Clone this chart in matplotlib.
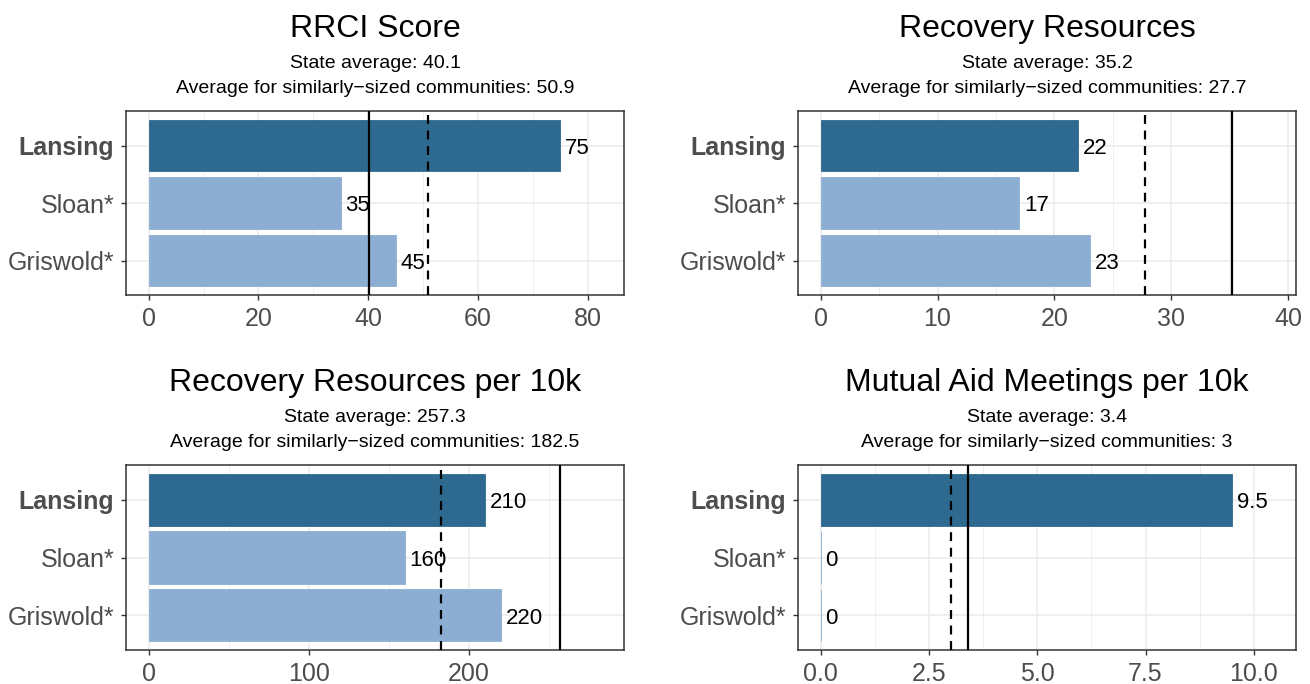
import matplotlib
matplotlib.use('Agg')
import matplotlib.pyplot as plt
from matplotlib.ticker import FixedLocator

plt.rcParams['font.family'] = ['Liberation Sans', 'DejaVu Sans']

# data
places = ['Lansing', 'Sloan*', 'Griswold*']
rrci_score = [75, 35, 45]
recovery_resources = [22, 17, 23]
resources_per_10k = [210, 160, 220]
mutual_aid_per_10k = [9.5, 0, 0]

titles = ['RRCI Score', 'Recovery Resources',
          'Recovery Resources per 10k', 'Mutual Aid Meetings per 10k']
state_avg = [40.1, 35.2, 257.3, 3.4]
similar_avg = [50.9, 27.7, 182.5, 3]
major_ticks = [[0, 20, 40, 60, 80], [0, 10, 20, 30, 40],
               [0, 100, 200], [0, 2.5, 5, 7.5, 10]]
tick_fmt = ['{:g}', '{:g}', '{:g}', '{:.1f}']
series = [rrci_score, recovery_resources, resources_per_10k, mutual_aid_per_10k]

dark = '#2E6A8F'
light = '#8CAED3'
grid_col = '#EBEBEB'
axis_col = '#333333'
text_col = '#4D4D4D'

fig = plt.figure(figsize=(13.1, 6.84), dpi=100)
W, H = 1310.0, 684.0
# axes boxes in pixels: left, top, right, bottom
boxes = [(126, 111, 624, 295), (798, 111, 1296, 295),
         (126, 465, 624, 650), (798, 465, 1296, 650)]

for k in range(4):
    l, t, r, b = boxes[k]
    ax = fig.add_axes([l / W, (H - b) / H, (r - l) / W, (b - t) / H])
    vals = series[k]
    ypos = [2, 1, 0]
    cols = [dark, light, light]
    ax.barh(ypos, vals, height=0.9, color=cols, edgecolor=cols,
            linewidth=0.6, zorder=2)
    for y, v in zip(ypos, vals):
        ax.annotate('{:g}'.format(v), xy=(v, y), xytext=(3.5, -6),
                    textcoords='offset points', ha='left', va='baseline',
                    fontsize=16, color='black', zorder=4)
    ax.axvline(state_avg[k], color='black', linewidth=1.6, zorder=3)
    ax.axvline(similar_avg[k], color='black', linewidth=1.6,
               linestyle=(0, (4, 3)), zorder=3)

    L = max(max(vals), state_avg[k], similar_avg[k]) * 1.1
    ax.set_xlim(-0.05 * L, 1.05 * L)
    ax.set_ylim(-0.6, 2.6)

    mt = major_ticks[k]
    step = mt[1] - mt[0]
    minors = [m + step / 2.0 for m in mt]
    minors = [m for m in minors if m < 1.05 * L]
    ax.xaxis.set_major_locator(FixedLocator(mt))
    ax.xaxis.set_minor_locator(FixedLocator(minors))
    ax.set_xticklabels([tick_fmt[k].format(m) for m in mt])
    ax.set_yticks(ypos)
    ax.set_yticklabels(places)
    ax.get_yticklabels()[0].set_fontweight('bold')

    ax.set_axisbelow(True)
    ax.grid(True, which='major', color=grid_col, linewidth=1.1)
    ax.grid(True, which='minor', axis='x', color=grid_col, linewidth=0.55)
    ax.tick_params(axis='both', which='major', length=3.3, width=1.0,
                   color=axis_col, labelcolor=text_col, labelsize=18)
    ax.tick_params(axis='y', which='major', pad=5)
    ax.tick_params(axis='x', which='major', pad=5)
    ax.tick_params(axis='x', which='minor', length=0)
    for s in ax.spines.values():
        s.set_color(axis_col)
        s.set_linewidth(1.1)

    ax.annotate(titles[k], xy=(0.5, 1), xycoords='axes fraction',
                xytext=(0, 53), textcoords='offset points',
                ha='center', va='baseline', fontsize=23, color='black')
    ax.annotate('State average: {:g}'.format(state_avg[k]), xy=(0.5, 1),
                xycoords='axes fraction', xytext=(0, 30.6),
                textcoords='offset points', ha='center', va='baseline',
                fontsize=14, color='black')
    ax.annotate('Average for similarly\u2212sized communities: {:g}'.format(similar_avg[k]),
                xy=(0.5, 1), xycoords='axes fraction', xytext=(0, 13.2),
                textcoords='offset points', ha='center', va='baseline',
                fontsize=14, color='black')

fig.savefig('out.png', dpi=100)
